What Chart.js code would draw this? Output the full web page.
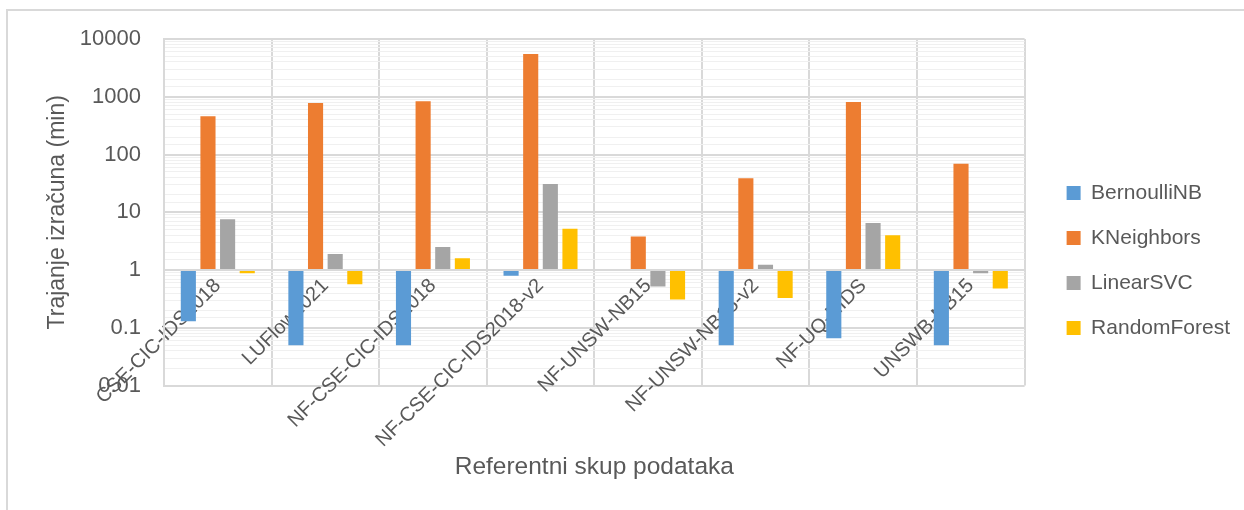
<!DOCTYPE html>
<html>
<head>
<meta charset="utf-8">
<script src="https://cdn.jsdelivr.net/npm/chart.js@4"></script>
<style>
  body { margin: 0; background: #fff; }
  #frame {
    position: absolute; left: 6px; top: 9px; width: 1300px; height: 600px;
    border-left: 2px solid #d9d9d9; border-top: 2px solid #d9d9d9;
  }
  #wrap { position: absolute; left: 0; top: 0; width: 1244px; height: 510px; }
</style>
</head>
<body>
<div id="frame"></div>
<div id="wrap"><canvas id="times" width="1244" height="510"></canvas></div>
<script>
const categories = [
  "CSE-CIC-IDS2018",
  "LUFlow2021",
  "NF-CSE-CIC-IDS2018",
  "NF-CSE-CIC-IDS2018-v2",
  "NF-UNSW-NB15",
  "NF-UNSW-NB15-v2",
  "NF-UQ-NIDS",
  "UNSWB-NB15",
];
const bernoulliNB = [0.13, 0.05, 0.05, 0.8, null, 0.05, 0.066, 0.05];
const kNeighbors = [460, 780, 840, 5500, 3.8, 39, 810, 69];
const linearSVC = [7.6, 1.9, 2.5, 31, 0.52, 1.24, 6.5, 0.88];
const randomForest = [0.88, 0.57, 1.6, 5.2, 0.31, 0.33, 4.0, 0.48];
const yTickLabels = ["0.01", "0.1", "1", "10", "100", "1000", "10000"];

const font = "'Liberation Sans', Arial, sans-serif";
const textColor = "#595959";
const gridMajor = "#d9d9d9";
const gridMinor = "#f0f0f0";

function isDecade(v) {
  const l = Math.log10(v);
  return Math.abs(l - Math.round(l)) < 1e-6;
}

function makeSet(label, values, color) {
  return {
    label: label,
    data: values,
    base: 1,
    backgroundColor: color,
    borderColor: color,
    borderWidth: 0,
    barPercentage: 0.77,
    categoryPercentage: 0.73,
  };
}

// push the legend a bit further away from the plot, like Excel does
const legendGap = {
  id: "legendGap",
  afterLayout(chart) {
    if (chart.legend) {
      chart.legend.left += 18;
      chart.legend.right += 18;
    }
  },
};

const data = {
  labels: categories,
  datasets: [
    makeSet("BernoulliNB", bernoulliNB, "#5b9bd5"),
    makeSet("KNeighbors", kNeighbors, "#ed7d31"),
    makeSet("LinearSVC", linearSVC, "#a5a5a5"),
    makeSet("RandomForest", randomForest, "#ffc000"),
  ],
};

const config = {
  type: "bar",
  data: data,
  plugins: [legendGap],
  options: {
    responsive: false,
    animation: false,
    layout: {
      padding: { left: 40, top: 39, right: 22, bottom: 28 },
    },
    plugins: {
      tooltip: { enabled: false },
      legend: {
        position: "right",
        labels: {
          font: { family: font, size: 21 },
          color: textColor,
          boxWidth: 14,
          boxHeight: 14,
          padding: 24,
        },
      },
      title: {
        display: true,
        position: "bottom",
        fullSize: false,
        text: "Referentni skup podataka",
        color: textColor,
        font: { family: font, size: 24.5, weight: "normal" },
        padding: { top: 67, bottom: 0 },
      },
    },
    scales: {
      x: {
        type: "category",
        position: { y: 1 },
        grid: {
          offset: true,
          color: gridMajor,
          lineWidth: 2,
          drawTicks: false,
        },
        border: { color: gridMajor, width: 2 },
        ticks: {
          autoSkip: false,
          maxRotation: 45,
          minRotation: 45,
          padding: 4,
          color: textColor,
          font: { family: font, size: 20 },
        },
      },
      y: {
        type: "logarithmic",
        min: 0.01,
        max: 10000,
        afterFit: (scale) => {
          scale.width = 124;
        },
        grid: {
          drawTicks: false,
          color: (ctx) => (ctx.tick && isDecade(ctx.tick.value) ? gridMajor : gridMinor),
          lineWidth: (ctx) => (ctx.tick && isDecade(ctx.tick.value) ? 2 : 1),
        },
        border: { color: gridMajor, width: 2 },
        ticks: {
          autoSkip: false,
          padding: 23,
          color: textColor,
          font: { family: font, size: 22 },
          callback: (v) => {
            if (!isDecade(v)) return "";
            const i = Math.round(Math.log10(v)) + 2;
            return yTickLabels[i];
          },
        },
        title: {
          display: true,
          text: "Trajanje izračuna (min)",
          color: textColor,
          font: { family: font, size: 23 },
          padding: { top: 4, bottom: 0 },
        },
      },
    },
  },
};

const timesChart = new Chart(document.getElementById("times"), config);
</script>
</body>
</html>
